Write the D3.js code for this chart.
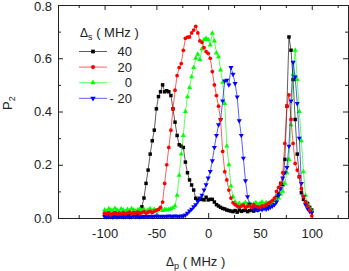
<!DOCTYPE html>
<html><head><meta charset="utf-8">
<script src="https://cdn.jsdelivr.net/npm/d3@7"></script>
<style>
html,body{margin:0;padding:0;background:#fff;}
svg{display:block;font-family:"Liberation Sans",Arial,Helvetica,sans-serif;}
</style></head>
<body><svg id="c" width="349" height="271"></svg>
<script>
// scan grid (Δp in MHz)
const dp = [
-100,-98,-96,-94,-92,-90,-88,-86,-84,-82,
-80,-78,-76,-74,-72,-70,-68,-66,-64,-62,
-60,-58,-56,-54,-52,-50,-48,-46,-44,-42,
-40,-38,-36,-34,-32,-30,-28,-26,-24,-22,
-20,-18,-16,-14,-12,-10,-8,-6,-4,-2,
0,2,4,6,8,10,12,14,16,18,
20,22,24,26,28,30,32,34,36,38,
40,42,44,46,48,50,52,54,56,58,
60,62,64,66,68,70,72,74,76,78,
80,82,84,86,88,90,92,94,96,98,
100];

const seriesNames = ["40", "20", "0", "- 20"];

const p2_40 = [
0.015,0.012,0.018,0.010,0.014,0.020,0.012,0.016,0.010,0.018,
0.014,0.020,0.012,0.016,0.022,0.015,0.018,0.025,0.042,0.075,
0.130,0.180,0.240,0.290,0.330,0.410,0.456,0.474,0.500,0.474,
0.478,0.474,0.460,0.410,0.360,0.310,0.275,0.270,0.265,0.210,
0.170,0.143,0.124,0.105,0.074,0.068,0.070,0.070,0.068,0.078,
0.068,0.070,0.070,0.060,0.050,0.045,0.040,0.036,0.034,0.030,
0.028,0.026,0.024,0.028,0.022,0.030,0.025,0.028,0.030,0.024,
0.028,0.030,0.026,0.032,0.030,0.036,0.040,0.045,0.049,0.050,
0.055,0.060,0.068,0.078,0.090,0.130,0.125,0.220,0.420,0.680,
0.630,0.520,0.370,0.240,0.155,0.095,0.070,0.060,0.055,0.040,
0.030];

const p2_20 = [
0.018,0.015,0.020,0.012,0.016,0.020,0.014,0.018,0.015,0.020,
0.016,0.018,0.022,0.015,0.020,0.018,0.022,0.016,0.020,0.024,
0.018,0.022,0.025,0.020,0.026,0.030,0.032,0.040,0.060,0.130,
0.200,0.265,0.330,0.410,0.480,0.535,0.565,0.580,0.630,0.675,
0.679,0.680,0.695,0.706,0.720,0.695,0.665,0.660,0.640,0.625,
0.618,0.600,0.550,0.500,0.460,0.420,0.370,0.250,0.174,0.143,
0.105,0.075,0.057,0.050,0.045,0.042,0.045,0.048,0.040,0.044,
0.046,0.040,0.050,0.044,0.042,0.040,0.046,0.044,0.050,0.055,
0.060,0.065,0.075,0.100,0.115,0.128,0.170,0.280,0.420,0.462,
0.370,0.280,0.205,0.180,0.155,0.110,0.080,0.060,0.045,0.030,
0.008];

const p2_0 = [
0.030,0.025,0.035,0.030,0.028,0.036,0.030,0.026,0.034,0.030,
0.025,0.032,0.028,0.035,0.030,0.026,0.030,0.034,0.028,0.032,
0.026,0.030,0.035,0.028,0.032,0.025,0.030,0.035,0.028,0.032,
0.030,0.032,0.035,0.038,0.045,0.085,0.160,0.240,0.310,0.400,
0.455,0.490,0.530,0.565,0.600,0.615,0.595,0.635,0.670,0.675,
0.670,0.650,0.694,0.665,0.620,0.605,0.556,0.510,0.430,0.270,
0.200,0.120,0.080,0.060,0.050,0.055,0.048,0.052,0.058,0.050,
0.055,0.048,0.052,0.058,0.050,0.055,0.060,0.052,0.058,0.055,
0.055,0.060,0.065,0.070,0.075,0.090,0.100,0.130,0.170,0.220,
0.350,0.540,0.630,0.520,0.400,0.290,0.174,0.085,0.050,0.035,
0.025];

const p2_m20 = [
0.005,0.004,0.006,0.005,0.003,0.006,0.004,0.005,0.006,0.004,
0.005,0.006,0.004,0.005,0.007,0.005,0.006,0.004,0.006,0.005,
0.006,0.005,0.007,0.005,0.006,0.008,0.006,0.007,0.005,0.007,
0.006,0.008,0.007,0.006,0.008,0.007,0.006,0.008,0.008,0.011,
0.018,0.026,0.033,0.042,0.050,0.062,0.075,0.086,0.105,0.125,
0.150,0.175,0.215,0.265,0.310,0.350,0.370,0.440,0.515,0.518,
0.500,0.565,0.540,0.505,0.455,0.365,0.310,0.225,0.140,0.080,
0.052,0.040,0.035,0.033,0.030,0.034,0.032,0.035,0.033,0.036,
0.040,0.045,0.050,0.060,0.085,0.110,0.150,0.170,0.190,0.270,
0.440,0.585,0.530,0.430,0.300,0.130,0.080,0.050,0.035,0.025,
0.020];

const xMajor = [-100, -50, 0, 50, 100];
const xMinor = [-125, -75, -25, 25, 75, 125];
const yMajor = [0.0, 0.2, 0.4, 0.6, 0.8];
const yMinor = [0.1, 0.3, 0.5, 0.7];

const svg = d3.select("#c");
const L = 58, R = 348, T = 5, B = 218;
const x = d3.scaleLinear().domain([-145, 135]).range([L, R]);
const y = d3.scaleLinear().domain([0, 0.8]).range([B, T]);

const axisColor = "#222";
function styleAxis(g) {
  g.selectAll("path.domain").attr("stroke", axisColor).attr("stroke-width", 1);
  g.selectAll(".tick line").attr("stroke", axisColor).attr("stroke-width", 1);
  g.selectAll(".tick text").attr("fill", "#222").style("font-size", "13px")
   .style("font-family", '"Liberation Sans",Arial,sans-serif');
}

// minor ticks
svg.append("g").attr("transform", `translate(0,${B})`)
  .call(d3.axisBottom(x).tickValues(xMinor).tickSize(-3).tickSizeOuter(0).tickFormat(""))
  .call(styleAxis);
svg.append("g").attr("transform", `translate(0,${T})`)
  .call(d3.axisTop(x).tickValues(xMinor).tickSize(-3).tickSizeOuter(0).tickFormat(""))
  .call(styleAxis);
svg.append("g").attr("transform", `translate(${L},0)`)
  .call(d3.axisLeft(y).tickValues(yMinor).tickSize(-3).tickSizeOuter(0).tickFormat(""))
  .call(styleAxis);
svg.append("g").attr("transform", `translate(${R},0)`)
  .call(d3.axisRight(y).tickValues(yMinor).tickSize(-3).tickSizeOuter(0).tickFormat(""))
  .call(styleAxis);

// major ticks
svg.append("g").attr("transform", `translate(0,${B})`)
  .call(d3.axisBottom(x).tickValues(xMajor).tickSize(-5).tickSizeOuter(0).tickPadding(10.5).tickFormat(d => String(d)))
  .call(styleAxis);
svg.append("g").attr("transform", `translate(0,${T})`)
  .call(d3.axisTop(x).tickValues(xMajor).tickSize(-5).tickSizeOuter(0).tickFormat(""))
  .call(styleAxis);
const yAx = svg.append("g").attr("transform", `translate(${L},0)`)
  .call(d3.axisLeft(y).tickValues(yMajor).tickSize(-5).tickSizeOuter(0).tickPadding(6).tickFormat(d3.format(".1f")))
  .call(styleAxis);
// keep the top label fully inside the picture
yAx.selectAll(".tick text").filter(d => d === 0.8).attr("dy", "0.45em");
svg.append("g").attr("transform", `translate(${R},0)`)
  .call(d3.axisRight(y).tickValues(yMajor).tickSize(-5).tickSizeOuter(0).tickFormat(""))
  .call(styleAxis);

const series = [
  {name: seriesNames[0], vals: p2_40, color: "#000000", sym: d3.symbolSquare, size: 12, rot: 0},
  {name: seriesNames[2], vals: p2_0, color: "#00ff00", sym: d3.symbolTriangle, size: 11, rot: 0},
  {name: seriesNames[3], vals: p2_m20, color: "#0000ff", sym: d3.symbolTriangle, size: 11, rot: 180},
  {name: seriesNames[1], vals: p2_20, color: "#ff0000", sym: d3.symbolCircle, size: 11, rot: 0}
];

const line = d3.line().x(d => x(d[0])).y(d => y(d[1]));
const plot = svg.append("g");
series.forEach(s => {
  const pts = dp.map((v, i) => [v, s.vals[i]]);
  plot.append("path").datum(pts).attr("d", line)
    .attr("fill", "none").attr("stroke", s.color).attr("stroke-width", 0.8).attr("stroke-opacity", 0.8);
  plot.selectAll(null).data(pts).enter().append("path")
    .attr("d", d3.symbol().type(s.sym).size(s.size))
    .attr("transform", d => `translate(${x(d[0])},${y(d[1])}) rotate(${s.rot})`)
    .attr("fill", s.color);
});

// legend
const legOrder = [series[0], series[3], series[1], series[2]];
const leg = svg.append("g");
const t = leg.append("text").attr("x", 80).attr("y", 37).attr("fill", "#222").style("font-size", "13px");
t.append("tspan").text("Δ").style("font-size", "12px");
t.append("tspan").text("s").attr("dy", 3).style("font-size", "9px");
t.append("tspan").text(" ( MHz )").attr("dy", -3);

legOrder.forEach((s, i) => {
  const yy = 51.5 + i * 15.6;
  leg.append("line").attr("x1", 79).attr("x2", 107).attr("y1", yy).attr("y2", yy)
    .attr("stroke", s.color).attr("stroke-width", 0.8).attr("stroke-opacity", 0.8);
  leg.append("path").attr("d", d3.symbol().type(s.sym).size(s.size + 2))
    .attr("transform", `translate(93,${yy}) rotate(${s.rot})`).attr("fill", s.color);
  leg.append("text").attr("x", 132).attr("y", yy).attr("dy", "0.35em")
    .attr("text-anchor", "end").attr("fill", "#222").style("font-size", "13px").text(s.name);
});

// axis titles
const xt = svg.append("text").attr("x", 166).attr("y", 266).attr("fill", "#222").style("font-size", "13px");
xt.append("tspan").text("Δ").style("font-size", "12px");
xt.append("tspan").text("p").attr("dy", 3).style("font-size", "9px");
xt.append("tspan").text(" ( MHz )").attr("dy", -3);

const yt = svg.append("text").attr("transform", "translate(12,110) rotate(-90)").attr("fill", "#222").style("font-size", "13px");
yt.append("tspan").text("P");
yt.append("tspan").text("2").attr("dy", 3).style("font-size", "9px");
</script>
</body></html>
